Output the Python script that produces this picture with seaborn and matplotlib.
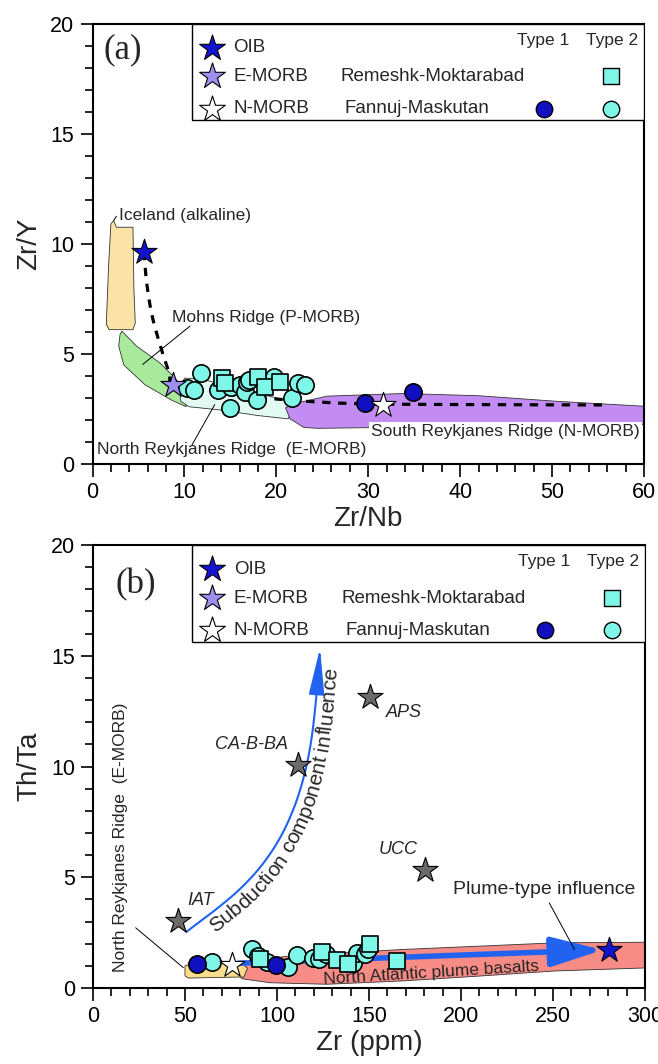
import numpy as np
import matplotlib
matplotlib.use("Agg")
import matplotlib.pyplot as plt
from matplotlib.patches import Polygon, Rectangle
from matplotlib.ticker import MultipleLocator
import seaborn as sns

# ---------------- panel (a): Zr/Nb vs Zr/Y ----------------
a_fm1_x = [29.6, 34.9]
a_fm1_y = [2.78, 3.26]
a_fm2_x = [10.3, 11.0, 11.8, 13.7, 15.0, 15.1, 16.0, 16.6, 16.8, 17.0, 17.9, 19.7, 21.7, 22.4, 23.1]
a_fm2_y = [3.44, 3.36, 4.12, 3.36, 2.53, 3.51, 3.59, 3.28, 3.74, 3.81, 2.91, 3.96, 2.98, 3.66, 3.59]
a_rm2_x = [14.1, 14.4, 18.0, 18.8, 20.4]
a_rm2_y = [3.89, 3.67, 3.96, 3.51, 3.74]
a_oib = (5.6, 9.63)
a_emorb = (8.8, 3.6)
a_nmorb = (31.6, 2.68)

a_trend_x = [5.6, 5.9, 6.5, 7.5, 8.3, 8.8, 12.0, 16.0, 20.0, 24.0, 31.6, 56.0]
a_trend_y = [9.63, 8.2, 6.7, 5.2, 4.2, 3.6, 3.3, 3.1, 2.95, 2.83, 2.72, 2.68]

iceland = [(2.0, 10.9), (2.3, 11.05), (2.6, 10.75), (4.4, 10.75), (4.5, 8.0), (4.65, 6.4),
           (4.4, 6.1), (1.8, 6.1), (1.5, 6.35), (1.75, 9.0)]
mohns = [(3.2, 6.03), (4.8, 5.35), (7.3, 4.6), (9.0, 3.9), (9.8, 3.4), (10.2, 2.6),
         (8.6, 2.9), (5.7, 3.6), (3.4, 4.5), (2.85, 5.35), (3.0, 5.9)]
nrr_a = [(9.5, 3.3), (10.0, 3.9), (12.0, 3.85), (15.0, 3.5), (18.0, 3.2), (21.0, 2.9),
         (21.7, 2.5), (21.3, 2.05), (18.0, 2.2), (14.0, 2.45), (10.5, 2.6), (9.6, 2.85)]
srr = [(21.0, 2.55), (21.8, 2.73), (25.5, 3.08), (33.8, 3.2), (42.0, 3.1), (50.4, 2.85),
       (61.0, 2.6), (61.0, 1.8), (40.0, 1.72), (30.0, 1.65), (24.5, 1.62), (23.0, 1.66), (21.5, 2.05)]

# ---------------- panel (b): Zr vs Th/Ta ----------------
b_fm1_x = [56.3, 99.5]
b_fm1_y = [1.08, 1.04]
b_fm2_x = [64.5, 86.5, 89.6, 94.8, 106.0, 110.7, 119.6, 122.7, 126.9, 141.4, 143.5, 147.6, 149.7]
b_fm2_y = [1.19, 1.74, 1.44, 1.17, 0.93, 1.49, 1.37, 1.29, 1.52, 1.14, 1.56, 1.52, 1.74]
b_rm2_x = [90.7, 124.5, 132.8, 138.5, 150.7, 165.2]
b_rm2_y = [1.30, 1.62, 1.28, 1.10, 1.97, 1.22]
b_oib = (280.3, 1.70)
b_nmorb = (75.7, 1.03)
crust_names = ["IAT", "CA-B-BA", "APS", "UCC"]
crust_x = [46.0, 111.3, 150.8, 180.4]
crust_y = [3.02, 10.07, 13.14, 5.32]

subd_x = [50.8, 65.8, 79.9, 91.8, 101.6, 109.2, 114.7, 118.5, 121.2, 123.4]
subd_y = [2.54, 3.48, 4.47, 5.55, 6.77, 8.13, 9.57, 11.11, 13.0, 15.35]

nrr_b = [(50.0, 0.55), (50.0, 1.0), (55.0, 1.15), (80.0, 1.15), (84.0, 0.9), (82.0, 0.5), (52.0, 0.45)]
nab = [(79.0, 1.14), (106.0, 1.44), (168.0, 1.74), (210.0, 1.89), (251.0, 2.04), (305.0, 2.07),
       (305.0, 0.92), (251.0, 0.77), (210.0, 0.54), (168.0, 0.32), (127.0, 0.17), (96.0, 0.24),
       (81.0, 0.42), (77.0, 0.8)]

DARK = "#1010C0"
CYAN = "#7EF7E8"
OIB_C = "#1414D0"
EMORB_C = "#9C8FF0"
GREY = "#6A6A6A"
BLUE = "#2162F0"

sns.set_theme(style="ticks")
plt.rcParams["font.family"] = ["Liberation Sans", "DejaVu Sans"]
plt.rcParams["axes.linewidth"] = 1.5

fig = plt.figure(figsize=(6.58, 10.64), dpi=100)
ax1 = fig.add_axes([0.1406, 0.5639, 0.8381, 0.4140])
ax2 = fig.add_axes([0.1413, 0.0714, 0.8389, 0.4164])


def smooth(xs, ys, n=20):
    p = np.column_stack([xs, ys]).astype(float)
    p = np.vstack([p[0], p, p[-1]])
    out = []
    t = np.linspace(0, 1, n, endpoint=False)[:, None]
    for i in range(1, len(p) - 2):
        p0, p1, p2, p3 = p[i - 1], p[i], p[i + 1], p[i + 2]
        out.append(0.5 * (2 * p1 + (-p0 + p2) * t + (2 * p0 - 5 * p1 + 4 * p2 - p3) * t ** 2
                          + (-p0 + 3 * p1 - 3 * p2 + p3) * t ** 3))
    out.append(p[-2][None])
    c = np.vstack(out)
    return c[:, 0], c[:, 1]


def style_axes(ax, xmax, xmaj, xmin):
    ax.set_xlim(0, xmax)
    ax.set_ylim(0, 20)
    ax.xaxis.set_major_locator(MultipleLocator(xmaj))
    ax.xaxis.set_minor_locator(MultipleLocator(xmin))
    ax.yaxis.set_major_locator(MultipleLocator(5))
    ax.yaxis.set_minor_locator(MultipleLocator(1))
    ax.tick_params(which="both", direction="out", top=False, right=False, width=1.2, colors="black")
    ax.tick_params(which="major", length=9, labelsize=15.5, pad=4)
    ax.tick_params(which="minor", length=6)
    for sp in ax.spines.values():
        sp.set_visible(True)
        sp.set_color("black")
        sp.set_linewidth(1.5)


def draw_key(ax):
    ax.add_patch(Rectangle((0.18, 0.78), 0.82, 0.22, transform=ax.transAxes, fc="white",
                           ec="black", lw=1.0, zorder=8))
    rows = [0.945, 0.88, 0.807]
    kw = dict(transform=ax.transAxes, zorder=9, clip_on=False, edgecolors="black")
    ax.scatter([0.216], [rows[0]], marker="*", s=380, c=OIB_C, linewidths=0.8, **kw)
    ax.scatter([0.216], [rows[1]], marker="*", s=380, c=EMORB_C, linewidths=0.8, **kw)
    ax.scatter([0.216], [rows[2]], marker="*", s=380, c="white", linewidths=0.8, **kw)
    tk = dict(transform=ax.transAxes, zorder=9, va="center", fontsize=13.5)
    ax.text(0.255, rows[0], "OIB", **tk)
    ax.text(0.255, rows[1], "E-MORB", **tk)
    ax.text(0.255, rows[2], "N-MORB", **tk)
    ax.text(0.450, rows[1], "Remeshk-Moktarabad", **tk)
    ax.text(0.457, rows[2], "Fannuj-Maskutan", **tk)
    ax.text(0.818, 0.962, "Type 1", ha="center", transform=ax.transAxes, zorder=9, va="center", fontsize=12.5)
    ax.text(0.943, 0.962, "Type 2", ha="center", transform=ax.transAxes, zorder=9, va="center", fontsize=12.5)
    ax.scatter([0.941], [rows[1]], marker="s", s=130, c=CYAN, linewidths=1.0, **kw)
    ax.scatter([0.818], [rows[2]], marker="o", s=140, c=DARK, linewidths=1.0, **kw)
    ax.scatter([0.941], [rows[2]], marker="o", s=140, c=CYAN, linewidths=1.0, **kw)


def curved_text(ax, xs, ys, text, offset, start, size):
    rend = fig.canvas.get_renderer()
    pts = ax.transData.transform(np.column_stack([xs, ys]))
    g = np.gradient(pts, axis=0)
    g = g / np.hypot(g[:, 0], g[:, 1])[:, None]
    normal = np.column_stack([g[:, 1], -g[:, 0]])
    op = pts + offset * normal
    d = np.diff(op, axis=0)
    seg = np.hypot(d[:, 0], d[:, 1])
    s = np.r_[0, np.cumsum(seg)]

    def at(L):
        i = int(np.clip(np.searchsorted(s, L) - 1, 0, len(seg) - 1))
        f = (L - s[i]) / seg[i]
        return op[i] + f * d[i], np.degrees(np.arctan2(d[i, 1], d[i, 0]))

    def width(t):
        tx = ax.text(0, 0, t, fontsize=size)
        w = tx.get_window_extent(rend).width
        tx.remove()
        return w

    for k, ch in enumerate(text):
        if ch == " ":
            continue
        wc = width(ch)
        left = width(text[:k + 1]) - wc
        p, _ = at(start + left)
        _, ang = at(start + left + wc / 2)
        xd, yd = ax.transData.inverted().transform(p)
        ax.text(xd, yd, ch, fontsize=size, rotation=ang, rotation_mode="anchor",
                ha="left", va="baseline", zorder=4)


# ---------------- draw panel (a) ----------------
style_axes(ax1, 60, 10, 2)
for poly, col in [(iceland, "#FBE3A8"), (mohns, "#A9E99C"), (nrr_a, "#E2FAF2"), (srr, "#C38CF3")]:
    ax1.add_patch(Polygon(poly, closed=True, fc=col, ec="#333333", lw=0.6, zorder=1))
tx, ty = smooth(a_trend_x, a_trend_y)
ax1.plot(tx, ty, color="black", lw=2.3, ls=(0, (2.6, 2.4)), zorder=2)

sns.scatterplot(x=a_fm2_x, y=a_fm2_y, ax=ax1, marker="o", s=155, color=CYAN,
                edgecolor="black", linewidth=1.2, zorder=4)
sns.scatterplot(x=a_rm2_x, y=a_rm2_y, ax=ax1, marker="s", s=145, color=CYAN,
                edgecolor="black", linewidth=1.2, zorder=4)
sns.scatterplot(x=a_fm1_x, y=a_fm1_y, ax=ax1, marker="o", s=155, color=DARK,
                edgecolor="black", linewidth=1.2, zorder=4)
sns.scatterplot(x=[a_oib[0]], y=[a_oib[1]], ax=ax1, marker="*", s=360, color=OIB_C,
                edgecolor="black", linewidth=0.8, zorder=5)
sns.scatterplot(x=[a_emorb[0]], y=[a_emorb[1]], ax=ax1, marker="*", s=360, color=EMORB_C,
                edgecolor="black", linewidth=0.8, zorder=5)
sns.scatterplot(x=[a_nmorb[0]], y=[a_nmorb[1]], ax=ax1, marker="*", s=360, color="white",
                edgecolor="black", linewidth=0.8, zorder=5)

ax1.text(2.9, 11.3, "Iceland (alkaline)", fontsize=12.5, va="center", zorder=3)
ax1.plot([2.3, 2.6], [11.05, 11.25], color="black", lw=0.7, zorder=3)
ax1.text(8.6, 6.64, "Mohns Ridge (P-MORB)", fontsize=12.5, va="center", zorder=3)
ax1.plot([10.6, 5.46], [6.26, 4.52], color="black", lw=0.7, zorder=3)
ax1.text(0.5, 0.65, "North Reykjanes Ridge  (E-MORB)", fontsize=12.5, va="center", zorder=3)
ax1.plot([10.84, 13.3], [0.88, 2.7], color="black", lw=0.7, zorder=3)
ax1.text(30.3, 1.48, "South Reykjanes Ridge (N-MORB)", fontsize=12.5, va="center", zorder=3,
         bbox=dict(fc="white", ec="none", pad=1.5))
ax1.text(1.15, 18.8, "(a)", fontsize=25, family=["Liberation Serif"], va="center", zorder=3)
ax1.set_xlabel("Zr/Nb", fontsize=20, labelpad=2)
ax1.set_ylabel("Zr/Y", fontsize=20, labelpad=6)
draw_key(ax1)

# ---------------- draw panel (b) ----------------
style_axes(ax2, 300, 50, 10)
ax2.add_patch(Polygon(nab, closed=True, fc="#F78B86", ec="#333333", lw=0.6, zorder=1))
ax2.add_patch(Polygon(nrr_b, closed=True, fc="#FBDB8C", ec="#333333", lw=0.6, zorder=1.5))

sx, sy = smooth(subd_x, subd_y)
ax2.plot(sx[:-14], sy[:-14], color=BLUE, lw=1.5, zorder=2)
ax2.annotate("", xy=(sx[-1], sy[-1]), xytext=(sx[-14], sy[-14]), zorder=2,
             arrowprops=dict(arrowstyle="-|>,head_length=2.4,head_width=0.4", color=BLUE, lw=1.5,
                             shrinkA=0, shrinkB=0))
curved_text(ax2, sx, sy, "Subduction component influence", 18, 22, 15)

ax2.annotate("", xy=(277.0, 1.72), xytext=(79.0, 1.12), zorder=3,
             arrowprops=dict(arrowstyle="-|>,head_length=2.6,head_width=0.75", color=BLUE, lw=4,
                             shrinkA=0, shrinkB=0))

sns.scatterplot(x=b_fm2_x, y=b_fm2_y, ax=ax2, marker="o", s=155, color=CYAN,
                edgecolor="black", linewidth=1.2, zorder=4)
sns.scatterplot(x=b_rm2_x, y=b_rm2_y, ax=ax2, marker="s", s=145, color=CYAN,
                edgecolor="black", linewidth=1.2, zorder=4)
sns.scatterplot(x=b_fm1_x, y=b_fm1_y, ax=ax2, marker="o", s=155, color=DARK,
                edgecolor="black", linewidth=1.2, zorder=4)
sns.scatterplot(x=crust_x, y=crust_y, ax=ax2, marker="*", s=360, color=GREY,
                edgecolor="black", linewidth=0.8, zorder=5)
sns.scatterplot(x=[b_oib[0]], y=[b_oib[1]], ax=ax2, marker="*", s=360, color=OIB_C,
                edgecolor="black", linewidth=0.8, zorder=5)
sns.scatterplot(x=[b_nmorb[0]], y=[b_nmorb[1]], ax=ax2, marker="*", s=360, color="white",
                edgecolor="black", linewidth=0.8, zorder=5)

it = dict(fontsize=13, style="italic", va="center", zorder=3)
ax2.text(51, 3.95, crust_names[0], **it)
ax2.text(106, 11.0, crust_names[1], ha="right", **it)
ax2.text(159, 12.45, crust_names[2], **it)
ax2.text(155, 6.25, crust_names[3], **it)

ax2.text(14.9, 6.8, "North Reykjanes Ridge  (E-MORB)", rotation=90, fontsize=12.5,
         ha="center", va="center", zorder=3)
ax2.plot([23.2, 49.1], [2.72, 0.92], color="black", lw=0.7, zorder=3)
ax2.text(184, 0.69, "North Atlantic plume basalts", rotation=3.5, fontsize=12.5,
         ha="center", va="center", rotation_mode="anchor", zorder=3)
ax2.text(245, 4.44, "Plume-type influence", fontsize=14, ha="center", va="center", zorder=3)
ax2.plot([248, 261.7], [3.84, 1.74], color="black", lw=0.7, zorder=3)
ax2.text(12.0, 18.2, "(b)", fontsize=25, family=["Liberation Serif"], va="center", zorder=3)
ax2.set_xlabel("Zr (ppm)", fontsize=20, labelpad=2)
ax2.set_ylabel("Th/Ta", fontsize=20, labelpad=6)
draw_key(ax2)

fig.savefig("out.png", dpi=100)
